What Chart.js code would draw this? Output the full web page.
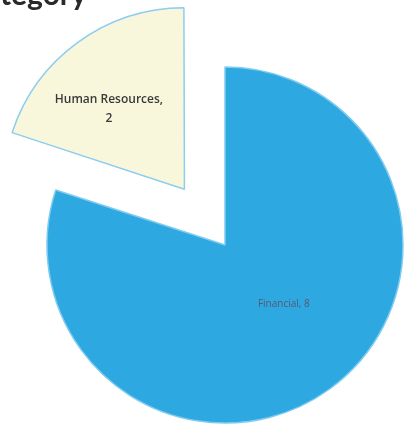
<!DOCTYPE html>
<html>
<head>
<meta charset="utf-8">
<script src="https://cdn.jsdelivr.net/npm/chart.js@4/dist/chart.umd.min.js"></script>
<style>
  html, body { margin: 0; padding: 0; background: #ffffff; }
  #wrap { position: relative; width: 404px; height: 430px; overflow: hidden; }
</style>
</head>
<body>
<div id="wrap"><canvas id="c"></canvas></div>
<script>
// ---- data ----
const categories = ['Financial', 'Human Resources'];
const counts = [8, 2];
const titleText = 'tegory';

// ---- styles ----
const sliceColors = ['#2ea8e0', '#f8f7dc'];
const sliceBorders = ['#7fcbf0', '#8ccdf0'];
const sliceOffsets = [0, 276];
// label placement: fraction along slice angle, fraction of radius
const labelPlace = [
  { angleFrac: 0.47, radFrac: 0.47, font: '400 10px "Open Sans"', color: '#5a5775', lh: 18, lines: (c, v) => [c + ', ' + v] },
  { angleFrac: 0.40, radFrac: 0.62, font: '600 12px "Open Sans"', color: '#3a3a3a', lh: 19, lines: (c, v) => [c + ',', String(v)] }
];

const labelPlugin = {
  id: 'sliceLabels',
  afterDatasetsDraw(chart) {
    const ctx = chart.ctx;
    const meta = chart.getDatasetMeta(0);
    meta.data.forEach((arc, i) => {
      const p = arc.getProps(['x', 'y', 'startAngle', 'endAngle', 'outerRadius'], true);
      const off = (arc.options.offset || 0) / 4;
      const mid = (p.startAngle + p.endAngle) / 2;
      const cfg = labelPlace[i];
      const a = p.startAngle + (p.endAngle - p.startAngle) * cfg.angleFrac;
      const r = p.outerRadius * cfg.radFrac;
      const cx = p.x + Math.cos(mid) * off + Math.cos(a) * r;
      const cy = p.y + Math.sin(mid) * off + Math.sin(a) * r;
      const lines = cfg.lines(categories[i], counts[i]);
      ctx.save();
      ctx.font = cfg.font;
      ctx.fillStyle = cfg.color;
      ctx.textAlign = 'center';
      ctx.textBaseline = 'middle';
      lines.forEach((t, k) => {
        ctx.fillText(t, cx, cy + (k - (lines.length - 1) / 2) * cfg.lh);
      });
      ctx.restore();
    });
  }
};

const titlePlugin = {
  id: 'cutTitle',
  afterDraw(chart) {
    const ctx = chart.ctx;
    ctx.save();
    ctx.font = '700 30px Lato';
    ctx.fillStyle = '#2a2a2a';
    ctx.textAlign = 'left';
    ctx.textBaseline = 'alphabetic';
    ctx.fillText(titleText, 0, 5);
    ctx.restore();
  }
};

new Chart(document.getElementById('c'), {
  type: 'pie',
  data: {
    labels: categories,
    datasets: [{
      data: counts,
      backgroundColor: sliceColors,
      borderColor: sliceBorders,
      borderWidth: 1.5,
      offset: sliceOffsets,
      radius: 178,
      clip: false
    }]
  },
  options: {
    responsive: true,
    maintainAspectRatio: false,
    animation: false,
    layout: { padding: { left: 46, right: 0, top: 60, bottom: 0 } },
    plugins: {
      legend: { display: false },
      title: { display: false },
      tooltip: { enabled: false }
    }
  },
  plugins: [labelPlugin, titlePlugin]
});
</script>
</body>
</html>
